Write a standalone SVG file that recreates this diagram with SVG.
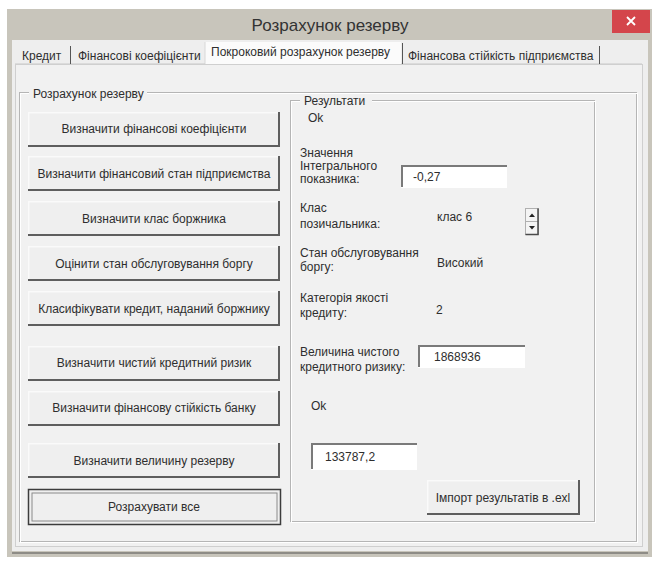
<svg xmlns="http://www.w3.org/2000/svg" width="656" height="562" viewBox="0 0 656 562">
<style>
.t{font-family:"Liberation Sans",Arial,sans-serif;font-size:12px;fill:#2e2e2e}
.c{text-anchor:middle}
.face{fill:#efefef}
.hl{stroke:#fafafa;stroke-width:1.5;fill:none}
.sh{stroke:#5e5e5e;stroke-width:2;fill:none}
.sh2{stroke:#a8a8a8;stroke-width:1;fill:none}
.etch1{stroke:#b5b5b5;stroke-width:1;fill:none}
.etch2{stroke:#ffffff;stroke-width:1;fill:none}
.tb{fill:#ffffff}
.tbd{stroke:#7a7a7a;stroke-width:2;fill:none}
.tbl{stroke:#e4e4e4;stroke-width:1;fill:none}
</style>
<rect x="0" y="0" width="656" height="562" fill="#ffffff"/>
<g id="window">
<rect x="7" y="9" width="645" height="548" fill="#c8c5bb"/>
<rect x="12" y="40" width="636" height="511" fill="#eeeeee"/>
<line x1="12" y1="553" x2="648" y2="553" stroke="#8e8c86" stroke-width="2"/>
<text class="t c" x="330" y="31" style="font-size:17px;fill:#333">Розрахунок резерву</text>
</g>
<g id="close">
<rect x="612" y="10" width="38" height="23" fill="#d4454b"/>
<path d="M627 17 L635 25 M635 17 L627 25" stroke="#ffffff" stroke-width="1.8"/>
</g>
<g id="tabs">
<rect x="205" y="42" width="196" height="23" fill="#fbfbfb"/>
<line x1="205" y1="42" x2="205" y2="64" stroke="#d8d8d8"/>
<line x1="15" y1="64" x2="205" y2="64" stroke="#c8c8c8"/>
<line x1="401" y1="64" x2="642" y2="64" stroke="#c8c8c8"/>
<line x1="70.5" y1="46" x2="70.5" y2="64" stroke="#555"/>
<line x1="402.5" y1="43" x2="402.5" y2="64" stroke="#555"/>
<line x1="599.5" y1="46" x2="599.5" y2="64" stroke="#555"/>
<text class="t" x="22" y="60">Кредит</text>
<text class="t" x="78" y="60">Фінансові коефіцієнти</text>
<text class="t" x="211" y="56">Покроковий розрахунок резерву</text>
<text class="t" x="408" y="60">Фінансова стійкість підприємства</text>
</g>
<g id="page">
<rect x="15.5" y="64.5" width="627" height="482" fill="#f1f1f1" stroke="#cfcfcf"/>
</g>
<g id="group-rozrakhunok">
<rect x="19.5" y="92.5" width="617" height="449" class="etch1"/>
<rect x="20.5" y="93.5" width="617" height="449" class="etch2"/>
<rect x="29" y="86" width="118" height="14" fill="#f1f1f1"/>
<text class="t" x="33" y="98">Розрахунок резерву</text>
</g>
<defs>
<g id="btn">
<rect x="0" y="0" width="252" height="35" class="face"/>
<path d="M0.75 34 V0.75 H251" class="hl"/>
<path d="M0 34 H251 V0" class="sh"/>
</g>
</defs>
<g id="btn1"><use href="#btn" x="28" y="112"/><text class="t c" x="154" y="133">Визначити фінансові коефіцієнти</text></g>
<g id="btn2"><use href="#btn" x="28" y="156"/><text class="t c" x="154" y="178">Визначити фінансовий стан підприємства</text></g>
<g id="btn3"><use href="#btn" x="28" y="201"/><text class="t c" x="154" y="223">Визначити клас боржника</text></g>
<g id="btn4"><use href="#btn" x="28" y="246"/><text class="t c" x="154" y="268">Оцінити стан обслуговування боргу</text></g>
<g id="btn5"><use href="#btn" x="28" y="291"/><text class="t c" x="154" y="313">Класифікувати кредит, наданий боржнику</text></g>
<g id="btn6"><use href="#btn" x="28" y="346"/><text class="t c" x="154" y="367">Визначити чистий кредитний ризик</text></g>
<g id="btn7"><use href="#btn" x="28" y="391"/><text class="t c" x="154" y="412">Визначити фінансову стійкість банку</text></g>
<g id="btn8"><use href="#btn" x="28" y="443"/><text class="t c" x="154" y="465">Визначити величину резерву</text></g>
<g id="btn9">
<rect x="28.5" y="489.5" width="252" height="35" fill="#efefef" stroke="#3c3c3c" stroke-width="1.5"/>
<rect x="32" y="493" width="245" height="28" fill="none" stroke="#8a8a8a" stroke-width="1"/>
<text class="t c" x="154" y="511">Розрахувати все</text>
</g>
<g id="group-results">
<rect x="290.5" y="100.5" width="304" height="421" class="etch1"/>
<rect x="291.5" y="101.5" width="304" height="421" class="etch2"/>
<rect x="300" y="94" width="72" height="14" fill="#f1f1f1"/>
<text class="t" x="304" y="105">Результати</text>
</g>
<g id="ok1"><text class="t" x="308" y="122">Ok</text></g>
<g id="lbl-integral">
<text class="t" x="300" y="157">Значення</text>
<text class="t" x="300" y="170">Інтегрального</text>
<text class="t" x="300" y="183">показника:</text>
</g>
<g id="tb-integral">
<rect x="401" y="165" width="106" height="23" class="tb"/>
<path d="M402 187 V166 H507" class="tbd"/>
<text class="t" x="413" y="181">-0,27</text>
</g>
<g id="lbl-klas">
<text class="t" x="300" y="212">Клас</text>
<text class="t" x="300" y="228">позичальника:</text>
</g>
<g id="val-klas"><text class="t" x="437" y="221">клас 6</text></g>
<g id="spin">
<rect x="525.5" y="208.5" width="13" height="13" fill="#f4f4f4" stroke="#b0b0b0"/>
<rect x="525.5" y="221.5" width="13" height="13" fill="#f4f4f4" stroke="#b0b0b0"/>
<path d="M538 208.5 V234.5 H525.5" stroke="#4a4a4a" stroke-width="1.5" fill="none"/>
<path d="M529 217 L532 213.5 L535 217 Z" fill="#222"/>
<path d="M529 226 L532 229.5 L535 226 Z" fill="#222"/>
</g>
<g id="lbl-stan">
<text class="t" x="300" y="257">Стан обслуговування</text>
<text class="t" x="300" y="271">боргу:</text>
</g>
<g id="val-stan"><text class="t" x="437" y="267">Високий</text></g>
<g id="lbl-kat">
<text class="t" x="300" y="302">Категорія якості</text>
<text class="t" x="300" y="317">кредиту:</text>
</g>
<g id="val-kat"><text class="t" x="436" y="314">2</text></g>
<g id="lbl-ryzyk">
<text class="t" x="300" y="356">Величина чистого</text>
<text class="t" x="300" y="371">кредитного ризику:</text>
</g>
<g id="tb-ryzyk">
<rect x="418" y="345" width="107" height="23" class="tb"/>
<path d="M419 367 V346 H525" class="tbd"/>
<text class="t" x="434" y="361">1868936</text>
</g>
<g id="ok2"><text class="t" x="311" y="410">Ok</text></g>
<g id="tb-rezerv">
<rect x="311" y="443" width="106" height="27" class="tb"/>
<path d="M312 469 V444 H417" class="tbd"/>
<text class="t" x="325" y="461">133787,2</text>
</g>
<g id="btn-import">
<rect x="427" y="480" width="153" height="35" class="face"/>
<path d="M427.75 514 V480.75 H579" class="hl"/>
<path d="M427 514 H579 V480" class="sh"/>
<text class="t c" x="503" y="502">Імпорт результатів в .exl</text>
</g>
<g id="connectors"></g>
</svg>
